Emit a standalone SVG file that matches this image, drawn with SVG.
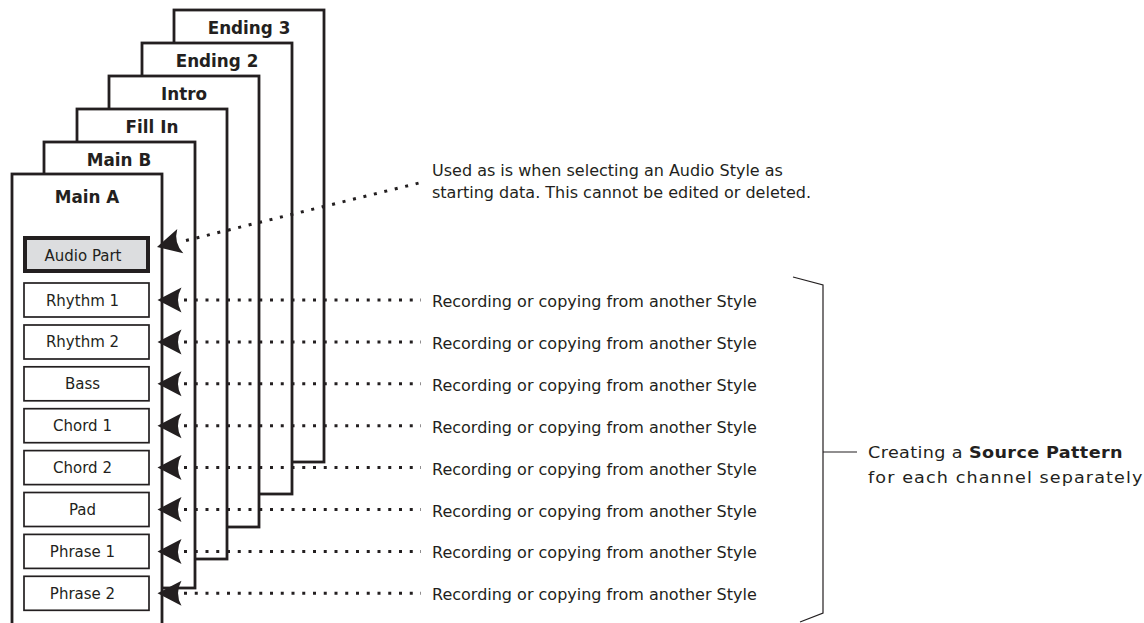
<svg xmlns="http://www.w3.org/2000/svg" width="1144" height="623" viewBox="0 0 1144 623">
<style>
.page{fill:#fff;stroke:#231f20;stroke-width:2.8}
.title{font-family:"DejaVu Sans",sans-serif;font-weight:bold;font-size:16.8px;fill:#231f20;text-anchor:middle}
.box{fill:#fff;stroke:#231f20;stroke-width:1.7}
.abox{fill:#dcdddf;stroke:#231f20;stroke-width:4}
.lbl{font-family:"DejaVu Sans",sans-serif;font-size:15px;fill:#231f20;text-anchor:middle}
.note{font-family:"DejaVu Sans",sans-serif;font-size:16px;fill:#231f20}
.dot{stroke:#231f20;stroke-width:3;stroke-dasharray:3 7.75;fill:none}
.ah{fill:#231f20}
.br{fill:none;stroke:#231f20;stroke-width:1.2}
</style>
<defs>
<path id="arrow" d="M0,0 L24,-12.5 Q17,0 24,12.5 Z"/>
</defs>
<g id="page-ending3"><rect class="page" x="174" y="10" width="150" height="452"/><text class="title" x="249" y="33.5">Ending 3</text></g>
<g id="page-ending2"><rect class="page" x="142" y="43" width="150" height="451"/><text class="title" x="217" y="66.5">Ending 2</text></g>
<g id="page-intro"><rect class="page" x="109" y="76" width="150" height="451"/><text class="title" x="184" y="99.5">Intro</text></g>
<g id="page-fillin"><rect class="page" x="77" y="109" width="150" height="450"/><text class="title" x="152" y="132.5">Fill In</text></g>
<g id="page-mainb"><rect class="page" x="44" y="142" width="151" height="446"/><text class="title" x="119" y="165.5">Main B</text></g>
<g id="page-maina"><rect class="page" x="12" y="174" width="150" height="470"/><text class="title" x="87" y="203">Main A</text></g>
<g id="ch-audio"><rect class="abox" x="25" y="238" width="123" height="33"/><text class="lbl" x="83" y="260.5">Audio Part</text></g>
<g id="ch-rhythm1"><rect class="box" x="24" y="283" width="125" height="34"/><text class="lbl" x="82.5" y="305.5">Rhythm 1</text></g>
<g id="ch-rhythm2"><rect class="box" x="24" y="325" width="125" height="34"/><text class="lbl" x="82.5" y="347.4">Rhythm 2</text></g>
<g id="ch-bass"><rect class="box" x="24" y="366.8" width="125" height="34"/><text class="lbl" x="82.5" y="389.3">Bass</text></g>
<g id="ch-chord1"><rect class="box" x="24" y="408.7" width="125" height="34"/><text class="lbl" x="82.5" y="431.2">Chord 1</text></g>
<g id="ch-chord2"><rect class="box" x="24" y="450.6" width="125" height="34"/><text class="lbl" x="82.5" y="473.1">Chord 2</text></g>
<g id="ch-pad"><rect class="box" x="24" y="492.5" width="125" height="34"/><text class="lbl" x="82.5" y="515">Pad</text></g>
<g id="ch-phrase1"><rect class="box" x="24" y="534.4" width="125" height="34"/><text class="lbl" x="82.5" y="556.9">Phrase 1</text></g>
<g id="ch-phrase2"><rect class="box" x="24" y="576.3" width="125" height="34"/><text class="lbl" x="82.5" y="598.8">Phrase 2</text></g>
<g id="connectors">
<line class="dot" x1="186" y1="240.5" x2="419" y2="183"/>
<use href="#arrow" class="ah" transform="translate(157,247) rotate(-14)"/>
<line class="dot" x1="184" y1="300" x2="421" y2="300"/>
<line class="dot" x1="184" y1="341.9" x2="421" y2="341.9"/>
<line class="dot" x1="184" y1="383.8" x2="421" y2="383.8"/>
<line class="dot" x1="184" y1="425.7" x2="421" y2="425.7"/>
<line class="dot" x1="184" y1="467.6" x2="421" y2="467.6"/>
<line class="dot" x1="184" y1="509.5" x2="421" y2="509.5"/>
<line class="dot" x1="184" y1="551.4" x2="421" y2="551.4"/>
<line class="dot" x1="184" y1="593.3" x2="421" y2="593.3"/>
<use href="#arrow" class="ah" transform="translate(157.5,300)"/>
<use href="#arrow" class="ah" transform="translate(157.5,341.9)"/>
<use href="#arrow" class="ah" transform="translate(157.5,383.8)"/>
<use href="#arrow" class="ah" transform="translate(157.5,425.7)"/>
<use href="#arrow" class="ah" transform="translate(157.5,467.6)"/>
<use href="#arrow" class="ah" transform="translate(157.5,509.5)"/>
<use href="#arrow" class="ah" transform="translate(157.5,551.4)"/>
<use href="#arrow" class="ah" transform="translate(157.5,593.3)"/>
<path class="br" d="M793,277 L823,285 L823,613 L800,622 M823,452 H857"/>
</g>
<g id="notes">
<text class="note" x="432" y="176" font-size="15.6">Used as is when selecting an Audio Style as</text>
<text class="note" x="432" y="197.5" font-size="15.6">starting data. This cannot be edited or deleted.</text>
<text class="note" x="432" y="307">Recording or copying from another Style</text>
<text class="note" x="432" y="348.9">Recording or copying from another Style</text>
<text class="note" x="432" y="390.8">Recording or copying from another Style</text>
<text class="note" x="432" y="432.7">Recording or copying from another Style</text>
<text class="note" x="432" y="474.6">Recording or copying from another Style</text>
<text class="note" x="432" y="516.5">Recording or copying from another Style</text>
<text class="note" x="432" y="558.4">Recording or copying from another Style</text>
<text class="note" x="432" y="600.3">Recording or copying from another Style</text>
<g transform="translate(868,0) scale(1.1,1)">
<text class="note" x="0" y="458" font-size="20" letter-spacing="0.35">Creating a <tspan font-weight="bold">Source Pattern</tspan></text>
<text class="note" x="0" y="483" font-size="20" letter-spacing="1">for each channel separately</text>
</g>
</g>
</svg>
